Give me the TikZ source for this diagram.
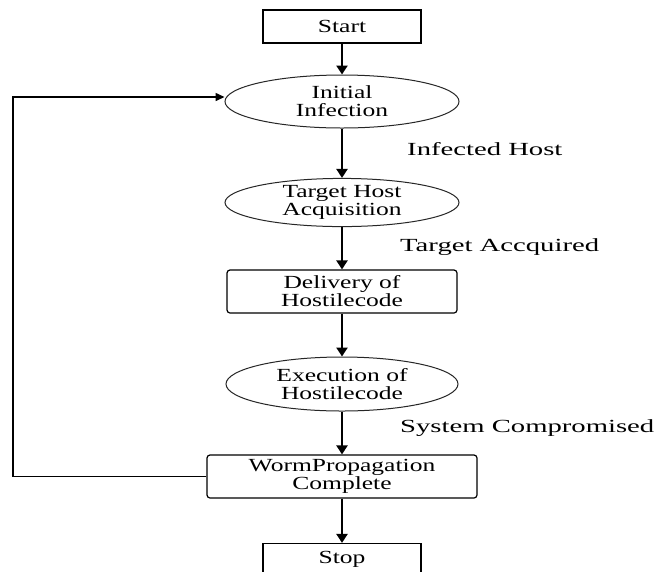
\documentclass[tikz,border=0pt]{standalone}
\usepackage{fontspec}
\setmainfont{Liberation Serif}
\newfontfamily\nodefont[FakeStretch=1.38]{Liberation Serif}
\newfontfamily\lblfont[FakeStretch=1.55]{Liberation Serif}
\usetikzlibrary{arrows.meta,shapes.geometric}
\begin{document}
\begin{tikzpicture}[x=1pt,y=-1pt,
  txt/.style={font=\nodefont\fontsize{18.5}{18}\selectfont, align=center, inner sep=0pt},
  plainbox/.style={txt, draw=black, line width=1.2pt, rectangle, minimum width=158pt, minimum height=33pt},
  roundbox/.style={txt, draw=black, line width=1.2pt, rectangle, rounded corners=3pt, minimum height=43pt},
  oval/.style={txt, draw=black!85, line width=1pt, ellipse, minimum width=234pt},
  lbl/.style={font=\lblfont\fontsize{18.5}{20}\selectfont, anchor=west, inner sep=0pt},
  flow/.style={line width=2.8pt, -{Triangle[width=11pt,length=9pt]}},
  back/.style={line width=1.5pt, -{Triangle[width=8pt,length=9pt]}}
]
\useasboundingbox (0,0) rectangle (655,571);
\fill[white] (0,0) rectangle (655,571);

\node[plainbox] (start) at (342,26.5) {Start};
\node[oval, minimum height=53pt] (init) at (342,101.5) {Initial\\Infection};
\node[oval, minimum height=45pt] (target) at (342,202.5) {Target Host\\Acquisition};
\node[roundbox, minimum width=230pt] (deliv) at (342,291.5) {Delivery of\\Hostilecode};
\node[oval, minimum height=54pt, minimum width=232pt] (exec) at (342,384) {Execution of\\Hostilecode};
\node[roundbox, minimum width=270pt] (worm) at (342,476.5) {WormPropagation\\Complete};
\node[plainbox, minimum height=31pt] (stop) at (342,559) {Stop};

\node[lbl] (l1) at (407,149) {Infected Host};
\node[lbl] (l2) at (400,247) {Target Accquired};
\node[lbl] (l3) at (400,428) {System Compromised};

\draw[flow] (start) -- (init);
\draw[flow] (init) -- (target);
\draw[flow] (target) -- (deliv);
\draw[flow] (deliv) -- (exec);
\draw[flow] (exec) -- (worm);
\draw[flow] (worm) -- (stop);

\coordinate (cornerB) at (13,476.5);
\coordinate (cornerT) at (13,97);
\draw[back] (worm.west) -- (cornerB) -- (cornerT) -- (cornerT -| init.west);
\end{tikzpicture}
\end{document}
